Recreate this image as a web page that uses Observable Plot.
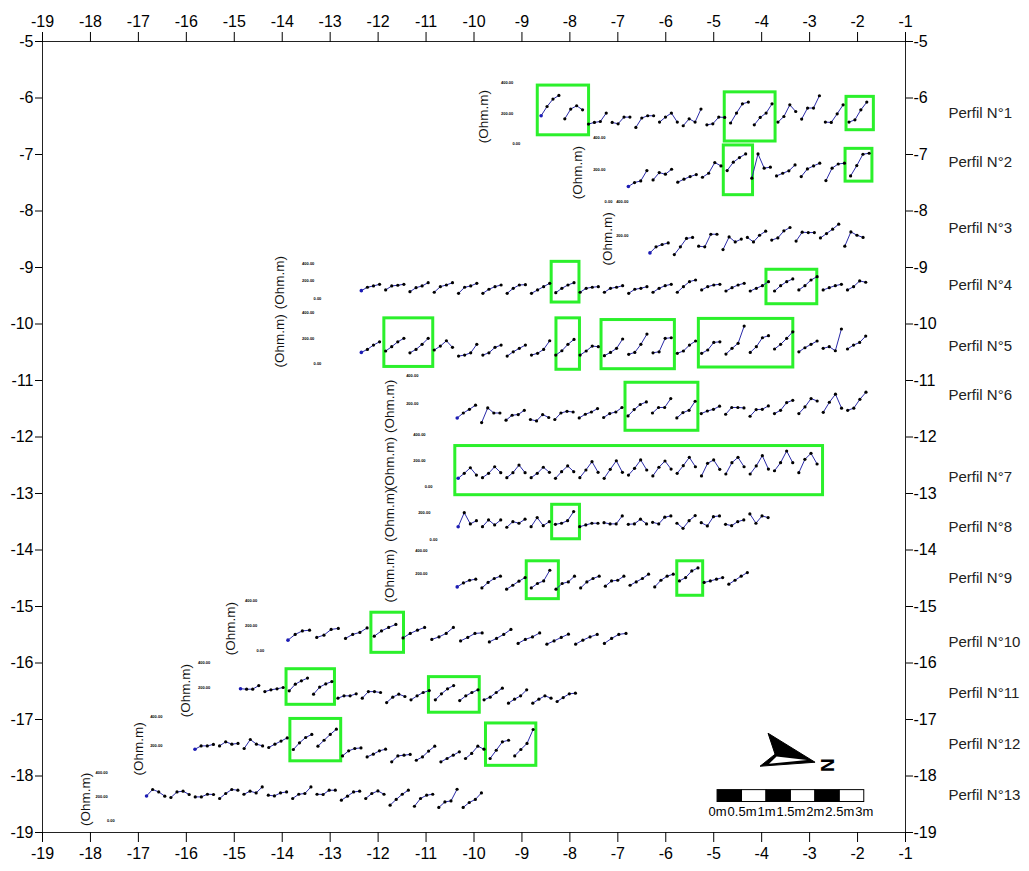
<!DOCTYPE html>
<html><head><meta charset="utf-8">
<script src="https://cdn.jsdelivr.net/npm/d3@7"></script>
<script src="https://cdn.jsdelivr.net/npm/@observablehq/plot@0.6"></script>
<style>body{margin:0;background:#fff;font-family:Arial,"Liberation Sans",sans-serif}</style>
</head><body><div id="chart"></div>
<script>
// ---- profile metadata ----
const profileNames = ["Perfil N°1","Perfil N°2","Perfil N°3","Perfil N°4","Perfil N°5","Perfil N°6","Perfil N°7","Perfil N°8","Perfil N°9","Perfil N°10","Perfil N°11","Perfil N°12","Perfil N°13"];
const profileLabelY = [-6.27,-7.13,-8.30,-9.31,-10.39,-11.26,-12.71,-13.59,-14.50,-15.63,-16.53,-17.43,-18.34];
const stationStart = [-8.60,-6.78,-6.33,-12.35,-12.35,-10.35,-10.33,-10.33,-10.35,-13.88,-14.87,-15.82,-16.83];
const groupSpacing = [0.494,0.515,0.508,0.507,0.507,0.509,0.5075,0.507,0.515,0.600,0.508,0.513,0.508];
const zeroLevel = [-6.81,-7.83,-9.03,-9.545,-10.70,-11.91,-12.885,-13.81,-14.83,-15.79,-16.90,-17.98,-18.80];
const span200 = [0.536,0.566,0.595,0.31,0.448,0.50,0.46,0.473,0.412,0.442,0.455,0.513,0.43];
const ohmLabelX = [-9.80,-7.84,-7.21,-14.05,-14.05,-11.75,-11.75,-11.75,-11.75,-15.08,-16.02,-17.00,-18.10];
const tickLabelX = [-9.18,-7.26,-6.78,-13.33,-13.33,-11.16,-11.01,-10.91,-10.97,-14.52,-15.50,-16.50,-17.64];
const tickValues = [[0,200,400],[0,200,400],[200,400],[0,200,400],[0,200,400],[200,400],[0,200,400],[0,200],[200,400],[0,200,400],[200,400],[200,400],[0,200,400]];

// ---- apparent resistivity (Ohm.m), groups of 4 stations ----
const rho1 = [[185,246,295,319],[165,229,251,224],[130,141,147,203],[141,132,176,176],[108,170,185,185],[143,176,203,143],[119,165,143,229],[125,132,176,174],[137,203,264,275],[125,174,203,264],[143,180,257,213],[163,236,236,317],[143,141,198,257],[143,158,224,275]];
const rho2 = [[93,118,128,193],[134,180,170,201],[120,139,155,168],[151,176,243,222],[193,245,274,297],[145,297,208,214],[159,176,191,228],[155,203,222,239],[130,208,234,239],[159,224,295,301]];
const rho3 = [[97,133,147,156],[87,133,183,189],[137,133,208,208],[117,192,162,179],[189,162,202,226],[173,186,228,248],[167,220,218,218],[186,212,238,268],[137,222,202,189]];
const rho4 = [[87,126,141,160],[95,141,149,160],[75,121,141,178],[69,133,152,178],[57,126,141,171],[57,103,133,152],[57,114,152,155],[57,95,133,171],[64,114,152,178],[69,114,126,133],[69,114,126,144],[57,103,114,133],[69,114,144,160],[69,133,190,209],[95,133,152,160],[83,121,152,171],[83,114,144,190],[83,144,190,221],[95,144,209,247],[95,121,144,160],[95,133,198,183]];
const rho5 = [[88,112,146,172],[99,133,172,199],[85,112,152,199],[107,138,180,128],[59,67,85,152],[67,85,128,146],[59,93,120,146],[67,81,112,180],[67,101,152,191],[67,99,138,133],[62,88,120,194],[73,88,152,233],[85,93,199,204],[81,99,146,178],[81,107,167,172],[75,120,160,296],[88,133,204,220],[115,152,199,251],[93,125,152,178],[120,133,101,273],[115,146,167,217]];
const rho6 = [[99,134,160,189],[66,170,134,134],[83,118,123,153],[88,78,123,102],[88,134,146,141],[99,125,141,165],[102,130,141,173],[113,158,194,212],[134,173,173,236],[99,137,153,217],[130,148,160,182],[125,173,173,170],[111,158,160,184],[130,153,208,224],[130,177,236,219],[139,210,267,168],[153,168,231,281]];
const rho7 = [[67,105,148,92],[72,105,156,110],[72,110,169,110],[72,105,152,113],[67,118,162,118],[72,131,195,113],[67,136,202,113],[92,144,208,131],[85,152,200,138],[105,164,228,156],[85,182,208,136],[100,187,228,156],[100,162,241,138],[125,187,277,187],[110,213,259,177]];
const rho8 = [[94,199,115,139],[94,145,107,145],[90,132,120,150],[94,162,102,132],[112,120,139,207],[94,107,120,120],[124,115,115,175],[112,115,150,115],[127,115,165,175],[120,82,139,177],[124,100,169,175],[112,102,132,145],[190,120,175,162]];
const rho9 = [[86,120,143,152],[77,124,158,178],[66,100,135,166],[77,115,137,229],[66,115,129,178],[77,129,158,178],[92,137,143,178],[100,129,158,195],[86,143,178,195],[137,166,223,249],[124,137,152,166],[109,143,178,209]];
const rho10 = [[88,134,162,168],[110,128,174,182],[102,134,150,186],[120,162,190,214],[106,142,168,190],[94,114,142,190],[82,110,142,146],[74,102,134,174],[62,94,114,146],[56,82,110,136],[56,88,114,134],[62,102,134,142]];
const rho11 = [[195,192,192,220],[173,187,195,205],[179,231,257,278],[153,208,233,251],[122,140,140,156],[122,173,173,166],[88,130,153,135],[109,140,166,181],[109,156,195,220],[103,140,166,187],[109,130,166,200],[83,114,140,187],[83,114,140,122],[96,127,156,161]];
const rho12 = [[177,200,200,210],[200,228,212,217],[182,244,212,200],[189,212,233,255],[175,221,258,279],[198,239,279,315],[131,166,182,186],[124,143,166,177],[90,131,136,141],[101,124,164,198],[90,113,136,159],[113,148,198,177],[113,170,228,239],[131,175,217,313]];
const rho13 = [[208,261,241,206],[195,241,247,220],[200,200,222,220],[187,228,261,255],[222,247,233,282],[214,208,233,241],[187,222,228,282],[222,220,255,255],[173,206,241,247],[187,228,249,222],[132,179,222,255],[123,187,214,222],[113,159,167,263],[113,154,179,233]];

// ---- anomaly zones [x1, x2, yTop, yBottom] ----
const anomalies = [
 [-8.67,-7.60,-5.78,-6.66],[-4.77,-3.71,-5.90,-6.77],[-2.23,-1.66,-5.98,-6.57],
 [-4.79,-4.18,-6.84,-7.72],[-2.25,-1.69,-6.90,-7.48],
 [-8.38,-7.80,-8.90,-9.62],[-3.90,-2.84,-9.04,-9.65],
 [-11.87,-10.85,-9.90,-10.76],[-8.28,-7.79,-9.90,-10.81],[-7.34,-5.81,-9.93,-10.80],[-5.31,-3.34,-9.91,-10.77],
 [-6.84,-5.32,-11.04,-11.89],
 [-10.39,-2.72,-12.16,-13.03],
 [-8.37,-7.79,-13.20,-13.81],
 [-8.90,-8.23,-14.20,-14.87],[-5.76,-5.22,-14.20,-14.81],
 [-12.14,-11.46,-15.11,-15.82],
 [-13.91,-12.90,-16.11,-16.74],[-10.94,-9.88,-16.25,-16.88],
 [-13.83,-12.77,-16.99,-17.74],[-9.75,-8.70,-17.07,-17.82]
];

// ---- axes / map furniture ----
const xTicks = d3.range(-19, 0);
const yTicks = d3.range(-19, -4);
const scaleMeters = [0,0.5,1,1.5,2,2.5,3];
const scaleBarStart = -4.92, unitsPerMeter = 1.02;
const scaleBarY = [-18.25,-18.46], scaleTextY = -18.64;
const northTip = [-2.876,-17.765];

const rhoAll = [rho1,rho2,rho3,rho4,rho5,rho6,rho7,rho8,rho9,rho10,rho11,rho12,rho13];
const stations = [];
rhoAll.forEach((groups,p)=>groups.forEach((g,gi)=>g.forEach((v,i)=>stations.push({
  key: p+"-"+gi, first: gi===0 && i===0,
  x: stationStart[p] + gi*groupSpacing[p] + i*groupSpacing[p]/4,
  y: zeroLevel[p] + v/200*span200[p]
}))));
const miniTicks = [];
tickValues.forEach((vals,p)=>vals.forEach(v=>miniTicks.push({x: tickLabelX[p], y: zeroLevel[p]+v/200*span200[p], text: v.toFixed(2)})));
const ohmLabels = profileNames.map((n,p)=>({x: ohmLabelX[p], y: zeroLevel[p]+180/200*span200[p]}));
const segs = scaleMeters.slice(0,-1).map((m,i)=>({x1: scaleBarStart+m*unitsPerMeter, x2: scaleBarStart+scaleMeters[i+1]*unitsPerMeter, black: i%2===0}));
const fmt = d => String(d);
const axisFont = 16;

const chart = Plot.plot({
  width: 1029, height: 871,
  marginLeft: 42, marginRight: 124, marginTop: 41, marginBottom: 39,
  x: {domain: [-19,-1]}, y: {domain: [-19,-5]},
  style: {fontFamily: "Arial, 'Liberation Sans', sans-serif", background: "white", color: "black"},
  marks: [
    Plot.rect(anomalies, {x1: d=>d[0], x2: d=>d[1], y1: d=>d[2], y2: d=>d[3], fill: "none", stroke: "#2bf02b", strokeWidth: 3}),
    Plot.line(stations, {x: "x", y: "y", z: "key", stroke: "#2a2aa8", strokeWidth: 1}),
    Plot.dot(stations.filter(d=>!d.first), {x: "x", y: "y", r: 1.6, fill: "black"}),
    Plot.dot(stations.filter(d=>d.first), {x: "x", y: "y", r: 1.8, fill: "#1c1cb4"}),
    Plot.text(miniTicks, {x: "x", y: "y", text: "text", textAnchor: "end", fontSize: 4, fontWeight: "bold", fill: "black"}),
    Plot.text(ohmLabels, {x: "x", y: "y", text: ()=>"(Ohm.m)", rotate: -90, fontSize: 13.5, fill: "#111"}),
    Plot.text(profileNames, {y: (d,i)=>profileLabelY[i], text: d=>d, frameAnchor: "right", dx: 43, textAnchor: "start", fontSize: 15, fill: "#222"}),
    Plot.rect(segs, {x1: "x1", x2: "x2", y1: scaleBarY[0], y2: scaleBarY[1], fill: d=>d.black?"black":"white", stroke: "black", strokeWidth: 1}),
    Plot.text(scaleMeters, {x: m=>scaleBarStart+m*unitsPerMeter, y: scaleTextY, text: m=>m+"m", fontSize: 13, fill: "black"}),
    Plot.frame({stroke: "#222"}),
    Plot.axisX({anchor: "top", ticks: xTicks, tickSize: 10, tickPadding: 5, fontSize: axisFont, tickFormat: fmt, label: null}),
    Plot.axisX({anchor: "bottom", ticks: xTicks, tickSize: 10, tickPadding: 5, fontSize: axisFont, tickFormat: fmt, label: null}),
    Plot.axisY({anchor: "left", ticks: yTicks, tickSize: 7, tickPadding: 2, fontSize: axisFont, tickFormat: fmt, label: null}),
    Plot.axisY({anchor: "right", ticks: yTicks, tickSize: 7, tickPadding: 1, fontSize: axisFont, tickFormat: fmt, label: null})
  ]
});
document.getElementById("chart").appendChild(chart);

// zero-value mini labels sit slightly to the right; north arrow
d3.select(chart).selectAll("text").filter(function(){return this.textContent==="0.00";}).attr("dx", 7);
const sx = chart.scale("x"), sy = chart.scale("y");
const ax = sx.apply(northTip[0]), ay = sy.apply(northTip[1]);
const g = d3.select(chart).append("g").attr("transform", `translate(${ax},${ay})`);
g.append("path").attr("d","M0,0L-47,-29L-40,-8L-55,4Z").attr("fill","black").attr("stroke","black").attr("stroke-linejoin","round");
g.append("path").attr("d","M-38.5,-5.8L-8,-2.2L-46,1.5Z").attr("fill","white");
g.append("text").attr("transform","translate(12,3) rotate(90)").attr("text-anchor","middle").attr("dominant-baseline","central")
  .attr("font-size",19).attr("font-weight","bold").attr("font-family","Arial, 'Liberation Sans', sans-serif").text("N");
</script>
</body></html>
